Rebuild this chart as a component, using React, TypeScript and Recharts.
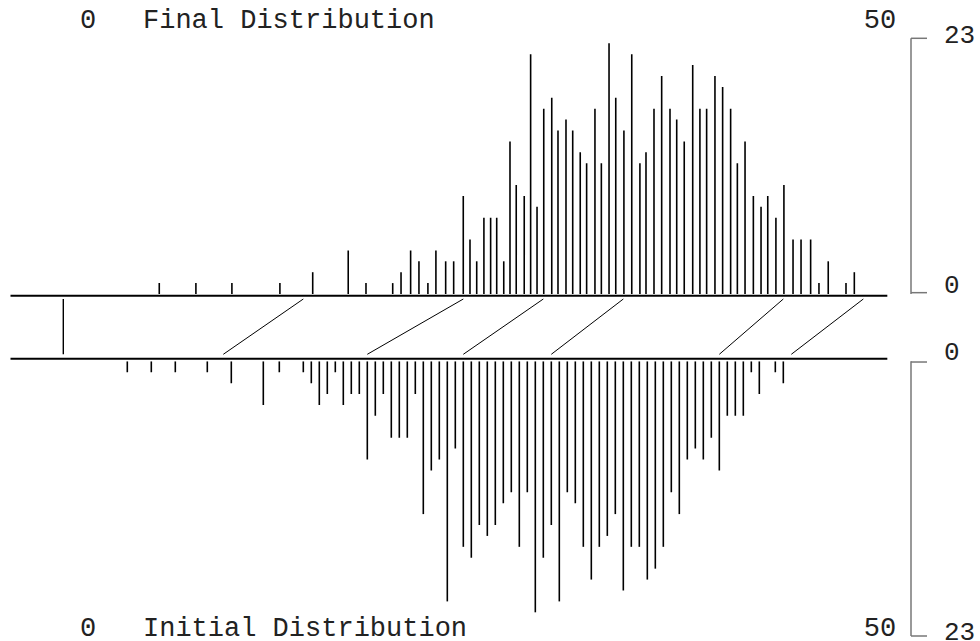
import React from 'react';
import { ComposedChart, Bar, XAxis, YAxis, ReferenceLine, Scatter } from 'recharts';

// ---- data ----
// Final distribution: bin positions (x units) and counts
const finalX = [
  4.5, 6.79, 9.04, 12.04, 14.09, 16.31, 17.42, 19.09, 19.61, 20.21, 20.73, 21.29, 21.79, 22.4, 22.9,
  23.5, 23.92, 24.34, 24.79, 25.21, 25.59, 26.03, 26.42, 26.81, 27.31, 27.71, 28.11, 28.53, 29.03, 29.42,
  29.92, 30.34, 30.81, 31.21, 31.73, 32.13, 32.61, 33.03, 33.54, 34.03, 34.54, 34.92, 35.42, 35.9, 36.42,
  36.84, 37.31, 37.84, 38.29, 38.71, 39.23, 39.71, 40.21, 40.63, 41.11, 41.63, 42.11, 42.53, 43.04, 43.54,
  44.11, 44.61, 45.21, 45.73, 46.31, 47.42, 47.94,
];
const finalCounts = [
  1, 1, 1, 1, 2, 4, 1, 1, 2, 4, 3, 1, 4, 3, 3, 9, 5, 3, 7, 7, 7, 3, 14, 10, 9, 22, 8, 17, 18, 15,
  16, 15, 13, 12, 17, 12, 23, 18, 15, 22, 12, 13, 17, 20, 17, 16, 14, 21, 17, 17, 20, 19, 17, 12, 14,
  9, 8, 9, 7, 10, 5, 5, 5, 1, 3, 1, 2,
];
// Initial distribution: bin positions and counts
const initialX = [
  2.5, 4, 5.5, 7.5, 9, 11, 12, 13.5, 14, 14.5, 15, 15.5, 16, 16.5, 17, 17.5, 18, 18.5, 19, 19.5, 20,
  20.5, 21, 21.5, 22, 22.5, 23, 23.5, 24, 24.5, 25, 25.5, 26, 26.5, 27, 27.5, 28, 28.5, 29, 29.5, 30,
  30.5, 31, 31.5, 32, 32.5, 33, 33.5, 34, 34.5, 35, 35.5, 36, 36.5, 37, 37.5, 38, 38.5, 39, 39.5, 40,
  40.5, 41, 41.5, 42, 43, 43.5,
];
const initialCounts = [
  1, 1, 1, 1, 2, 4, 1, 1, 2, 4, 3, 1, 4, 3, 3, 9, 5, 3, 7, 7, 7, 3, 14, 10, 9, 22, 8, 17, 18, 15,
  16, 15, 13, 12, 17, 12, 23, 18, 15, 22, 12, 13, 17, 20, 17, 16, 14, 21, 17, 17, 20, 19, 17, 12, 14,
  9, 8, 9, 7, 10, 5, 5, 5, 1, 3, 1, 2,
];
// Mapping lines: initial position -> final position
const mapFrom = [-1.5, 8.5, 17.5, 23.5, 29, 39.5, 44];
const mapTo = [-1.5, 13.5, 23.5, 28.5, 33.5, 43.5, 48.5];
const countTicks = [0, 23];
const rangeLabels = ['0', '50'];
const titles = ['Final Distribution', 'Initial Distribution'];

// ---- layout ----
const W = 980;
const X_DOMAIN: [number, number] = [-4.8, 51.48];
const BASE_SPAN = [-4.8, 50];
const FONT = "'Liberation Mono', 'Courier New', monospace";
const TEXT = '#222';
const GREY = '#777';

const finalData = finalX.map((x, i) => ({ x, count: finalCounts[i] }));
const initialData = initialX.map((x, i) => ({ x, count: initialCounts[i] }));
const mapSeries = mapFrom.map((f, i) => [
  { x: f, y: 0 },
  { x: mapTo[i], y: 1 },
]);

const Stick = (p: any) => {
  if (p.x == null || p.y == null) return null;
  const cx = p.x + p.width / 2;
  return <line x1={cx} x2={cx} y1={p.y} y2={p.y + p.height} stroke="#000" strokeWidth={1.6} />;
};

const NoDot = () => <g />;

const makeTick = (dyZero: number, dyTop: number) => (p: any) => {
  const v = p.payload.value;
  const dy = v === 0 ? dyZero : dyTop;
  return (
    <text x={p.x} y={p.y + dy} textAnchor="start" fontSize={26} fontFamily={FONT} fill={TEXT}>
      {v}
    </text>
  );
};

const bracketAxisProps = {
  yAxisId: 'br',
  orientation: 'right' as const,
  type: 'number' as const,
  ticks: countTicks,
  interval: 0 as const,
  width: 60,
  axisLine: { stroke: GREY, strokeWidth: 1.5 },
  tickLine: { stroke: GREY, strokeWidth: 1.5 },
  tickSize: 16,
  tickMargin: 17,
  allowDataOverflow: true,
};

export default function App() {
  return (
    <div
      style={{
        position: 'absolute',
        left: 0,
        top: 0,
        width: W,
        height: 641,
        background: '#fff',
        overflow: 'hidden',
      }}
    >
      {/* Final distribution (bars up) */}
      <div style={{ position: 'absolute', left: 0, top: 0 }}>
        <ComposedChart width={W} height={300} data={finalData} margin={{ top: 38.3, right: 9, bottom: 6, left: 10.5 }}>
          <XAxis type="number" dataKey="x" domain={X_DOMAIN} hide allowDataOverflow />
          <YAxis yAxisId="v" type="number" domain={[0, 23.46]} hide allowDataOverflow />
          <YAxis {...bracketAxisProps} domain={[-0.12, 23]} tick={makeTick(0, 5)} />
          <ReferenceLine
            yAxisId="v"
            segment={[{ x: BASE_SPAN[0], y: -0.17 }, { x: BASE_SPAN[1], y: -0.17 }]}
            stroke="#000"
            strokeWidth={2}
            ifOverflow="visible"
          />
          <Bar yAxisId="v" dataKey="count" barSize={2} shape={<Stick />} isAnimationActive={false} />
        </ComposedChart>
      </div>

      {/* Mapping lines between the two baselines */}
      <div style={{ position: 'absolute', left: 0, top: 290 }}>
        <ComposedChart width={W} height={70} margin={{ top: 9, right: 69, bottom: 5.7, left: 10.5 }}>
          <XAxis type="number" dataKey="x" domain={X_DOMAIN} hide allowDataOverflow />
          <YAxis type="number" dataKey="y" domain={[0, 1]} hide />
          {mapSeries.map((pts, i) => (
            <Scatter
              key={i}
              data={pts}
              dataKey="y"
              line={{ stroke: '#000', strokeWidth: i === 0 ? 1.4 : 1 }}
              shape={<NoDot />}
              isAnimationActive={false}
            />
          ))}
        </ComposedChart>
      </div>

      {/* Initial distribution (bars down) */}
      <div style={{ position: 'absolute', left: 0, top: 330 }}>
        <ComposedChart width={W} height={311} data={initialData} margin={{ top: 31.3, right: 9, bottom: 5, left: 10.5 }}>
          <XAxis type="number" dataKey="x" domain={X_DOMAIN} hide allowDataOverflow />
          <YAxis yAxisId="v" type="number" domain={[0, 25.17]} reversed hide allowDataOverflow />
          <YAxis {...bracketAxisProps} domain={[-0.06, 23]} reversed tick={makeTick(-2, 4)} />
          <ReferenceLine
            yAxisId="v"
            segment={[{ x: BASE_SPAN[0], y: -0.23 }, { x: BASE_SPAN[1], y: -0.23 }]}
            stroke="#000"
            strokeWidth={2}
            ifOverflow="visible"
          />
          <Bar yAxisId="v" dataKey="count" barSize={2} shape={<Stick />} isAnimationActive={false} />
        </ComposedChart>
      </div>

      {/* Titles and range labels */}
      <svg width={W} height={641} style={{ position: 'absolute', left: 0, top: 0, pointerEvents: 'none' }}>
        <g fontFamily={FONT} fontSize={27} fill={TEXT}>
          <text x={88} y={28} textAnchor="middle">{rangeLabels[0]}</text>
          <text x={143} y={28}>{titles[0]}</text>
          <text x={880} y={28} textAnchor="middle">{rangeLabels[1]}</text>
          <text x={88} y={636} textAnchor="middle">{rangeLabels[0]}</text>
          <text x={143} y={636}>{titles[1]}</text>
          <text x={880} y={636} textAnchor="middle">{rangeLabels[1]}</text>
        </g>
      </svg>
    </div>
  );
}
